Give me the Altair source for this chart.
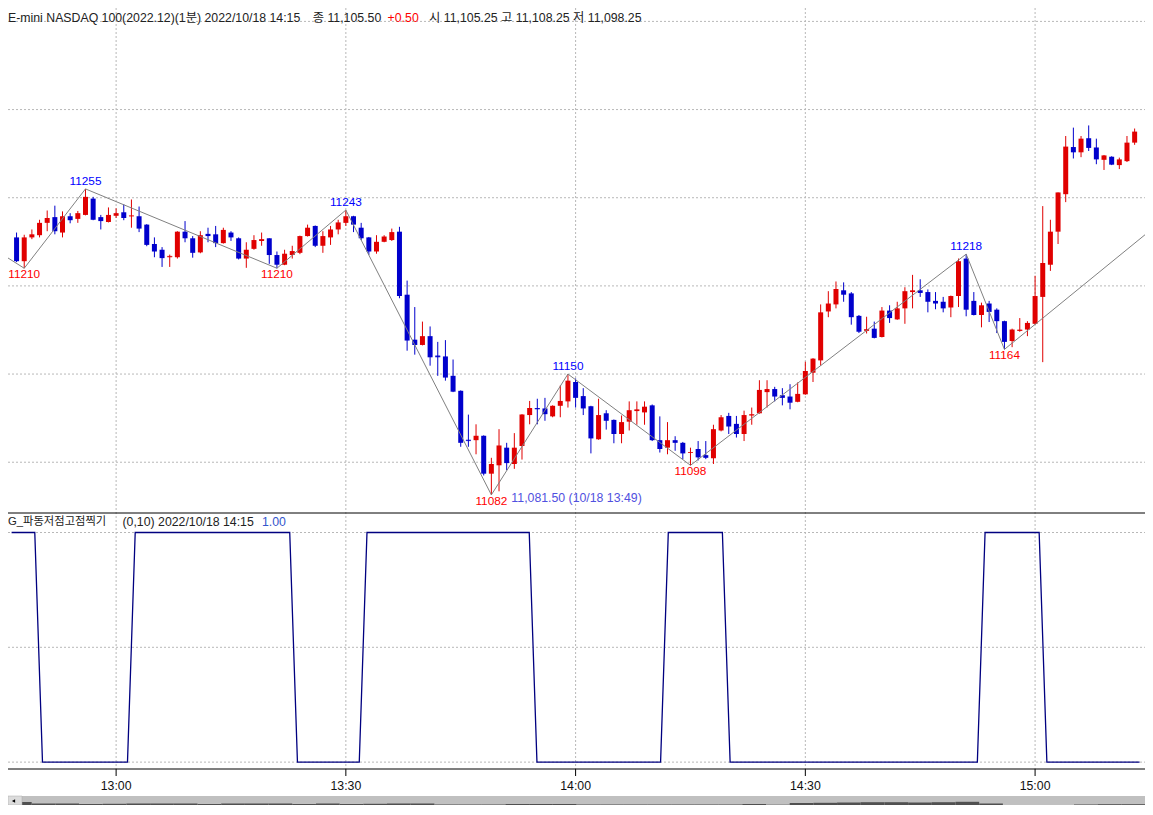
import altair as alt
import pandas as pd

# ---------------- values ----------------
FIRST_BAR = "12:47"  # consecutive 1-minute bars

opens = [
    11227.5, 11214.0, 11227.5, 11228.75, 11235.75, 11239.0, 11230.25, 11239.5, 11238.0, 11240.25,
    11249.5, 11239.0, 11236.25, 11239.75, 11241.75, 11239.5, 11239.5, 11234.75, 11223.75, 11220.5,
    11216.25, 11216.25, 11230.75, 11227.0, 11219.0, 11229.5, 11229.25, 11224.25, 11230.25, 11227.0,
    11215.5, 11221.0, 11225.5, 11227.0, 11217.5, 11212.0, 11217.5, 11218.75, 11228.25, 11234.0,
    11222.75, 11227.5, 11232.0, 11235.75, 11239.5, 11233.0, 11227.5, 11219.5, 11225.0, 11226.0,
    11230.75, 11195.0, 11169.5, 11166.5, 11171.5, 11160.5, 11160.0, 11149.0, 11140.5, 11112.75,
    11112.5, 11115.0, 11093.5, 11098.25, 11108.25, 11099.0, 11109.25, 11126.75, 11130.75, 11130.5,
    11126.0, 11132.0, 11134.5, 11145.5, 11137.5, 11131.75, 11113.0, 11127.75, 11124.0, 11116.0,
    11123.0, 11129.0, 11128.25, 11132.25, 11112.5, 11108.25, 11112.5, 11111.0, 11105.25, 11107.5,
    11104.0, 11102.25, 11118.0, 11126.25, 11121.75, 11116.0, 11126.5, 11127.75, 11139.75, 11141.5,
    11138.0, 11137.25, 11134.25, 11138.5, 11150.75, 11157.75, 11185.5, 11189.5, 11197.5, 11195.75,
    11183.0, 11174.5, 11175.75, 11171.0, 11186.0, 11181.0, 11187.25, 11196.5, 11197.5, 11196.5,
    11191.5, 11191.0, 11187.75, 11194.25, 11215.5, 11191.5, 11183.5, 11190.0, 11186.5, 11180.0,
    11168.75, 11174.5, 11175.25, 11178.5, 11193.75, 11212.0, 11230.75, 11252.0, 11278.75, 11275.75,
    11283.75, 11278.5, 11271.5, 11273.25, 11268.5, 11270.75, 11281.25,
]
highs = [
    11230.25, 11229.0, 11232.0, 11237.5, 11242.75, 11245.5, 11242.25, 11241.25, 11242.5, 11255.0,
    11250.5, 11240.25, 11244.5, 11244.0, 11246.25, 11249.0, 11245.0, 11235.0, 11227.5, 11222.0,
    11217.75, 11231.0, 11236.75, 11228.25, 11231.0, 11233.0, 11234.0, 11233.0, 11231.0, 11227.5,
    11224.75, 11228.75, 11230.25, 11227.0, 11219.5, 11220.5, 11222.75, 11228.5, 11234.75, 11234.25,
    11231.0, 11234.0, 11237.5, 11243.0, 11239.75, 11235.75, 11227.75, 11228.75, 11228.75, 11232.5,
    11233.5, 11203.0, 11188.0, 11179.75, 11177.0, 11168.25, 11169.25, 11158.25, 11140.75, 11127.0,
    11121.5, 11115.25, 11102.5, 11118.75, 11111.0, 11116.5, 11127.25, 11134.75, 11136.0, 11136.5,
    11132.25, 11143.5, 11150.0, 11147.5, 11142.0, 11132.0, 11136.0, 11129.5, 11124.25, 11126.5,
    11134.5, 11134.5, 11134.5, 11132.75, 11126.0, 11122.75, 11114.75, 11111.5, 11108.25, 11112.0,
    11112.0, 11121.25, 11126.75, 11128.0, 11126.25, 11129.25, 11131.0, 11146.5, 11146.5, 11142.75,
    11142.0, 11144.25, 11145.25, 11157.0, 11159.0, 11189.5, 11197.0, 11202.5, 11202.0, 11196.5,
    11183.5, 11182.5, 11179.75, 11188.0, 11189.0, 11191.0, 11199.25, 11206.25, 11203.75, 11198.0,
    11196.5, 11193.75, 11194.5, 11215.5, 11218.0, 11196.5, 11190.5, 11191.5, 11187.25, 11180.25,
    11175.75, 11181.75, 11180.0, 11205.75, 11245.25, 11237.5, 11253.0, 11285.0, 11289.75, 11285.0,
    11291.0, 11283.5, 11274.25, 11273.5, 11272.75, 11285.0, 11289.25,
]
lows = [
    11213.5, 11210.0, 11226.5, 11227.5, 11231.0, 11229.25, 11227.5, 11235.5, 11235.75, 11240.0,
    11237.25, 11232.0, 11236.0, 11238.5, 11237.25, 11233.0, 11230.5, 11222.5, 11216.25, 11210.75,
    11210.75, 11215.5, 11224.75, 11216.0, 11218.5, 11224.75, 11222.0, 11224.0, 11225.5, 11215.0,
    11210.25, 11220.5, 11222.75, 11212.5, 11210.0, 11211.75, 11215.5, 11218.0, 11228.0, 11222.0,
    11218.75, 11223.25, 11229.25, 11234.0, 11230.5, 11226.0, 11217.5, 11218.25, 11224.75, 11225.5,
    11193.0, 11163.25, 11161.0, 11166.25, 11154.75, 11149.0, 11146.25, 11139.75, 11108.75, 11108.75,
    11104.5, 11092.5, 11081.5, 11083.5, 11095.5, 11096.25, 11101.5, 11121.5, 11121.5, 11123.5,
    11125.5, 11125.5, 11131.0, 11131.0, 11126.75, 11105.0, 11112.75, 11118.5, 11110.75, 11110.75,
    11118.0, 11121.25, 11121.25, 11112.0, 11105.5, 11104.5, 11106.5, 11101.75, 11098.25, 11101.0,
    11101.75, 11099.0, 11117.5, 11116.0, 11114.0, 11112.0, 11121.25, 11127.5, 11131.0, 11134.5,
    11132.25, 11130.0, 11134.0, 11138.25, 11145.5, 11154.75, 11182.25, 11187.25, 11191.0, 11178.0,
    11173.25, 11173.0, 11170.25, 11170.75, 11179.0, 11180.75, 11178.5, 11187.25, 11193.75, 11185.0,
    11186.75, 11185.0, 11182.25, 11188.0, 11182.75, 11183.25, 11176.5, 11179.5, 11173.25, 11164.0,
    11165.25, 11174.0, 11171.5, 11178.0, 11156.75, 11208.5, 11223.75, 11247.5, 11272.25, 11273.0,
    11276.5, 11269.0, 11265.75, 11268.5, 11266.25, 11270.25, 11280.0,
]
closes = [
    11214.0, 11227.5, 11229.25, 11235.75, 11238.5, 11231.0, 11239.5, 11237.25, 11241.25, 11250.5,
    11237.5, 11236.75, 11240.25, 11241.25, 11238.5, 11239.75, 11232.5, 11223.25, 11219.5, 11215.75,
    11216.75, 11230.75, 11227.0, 11218.75, 11228.75, 11228.25, 11224.25, 11231.75, 11227.5, 11215.5,
    11220.5, 11226.0, 11226.25, 11217.5, 11212.0, 11218.25, 11219.75, 11228.25, 11233.0, 11222.75,
    11228.25, 11232.0, 11236.0, 11239.5, 11234.75, 11227.0, 11219.5, 11225.0, 11228.0, 11230.5,
    11194.25, 11169.0, 11166.5, 11171.5, 11159.5, 11159.75, 11148.0, 11140.0, 11111.0, 11112.25,
    11115.0, 11093.5, 11099.0, 11109.5, 11099.5, 11108.25, 11127.0, 11130.75, 11130.25, 11127.25,
    11132.0, 11134.75, 11146.25, 11136.5, 11130.5, 11113.5, 11126.75, 11123.5, 11116.0, 11122.75,
    11129.5, 11129.75, 11131.5, 11112.5, 11107.5, 11112.5, 11111.0, 11105.0, 11105.5, 11102.75,
    11102.5, 11118.75, 11125.5, 11120.25, 11116.0, 11126.75, 11127.0, 11141.0, 11141.5, 11137.25,
    11136.5, 11133.75, 11138.75, 11151.75, 11158.75, 11185.0, 11190.0, 11198.25, 11195.0, 11182.25,
    11174.0, 11175.25, 11170.5, 11186.0, 11181.75, 11187.25, 11197.0, 11197.25, 11196.0, 11191.0,
    11190.0, 11187.25, 11194.25, 11214.0, 11186.5, 11183.5, 11189.0, 11185.25, 11180.0, 11168.25,
    11175.25, 11175.0, 11179.0, 11194.25, 11213.0, 11230.75, 11253.0, 11279.0, 11275.75, 11283.5,
    11278.25, 11271.75, 11274.0, 11268.75, 11271.75, 11281.25, 11287.5,
]
# wave high/low indicator (0 or 1), one value per bar
signal = [
    1, 1, 1, 1, 0, 0, 0, 0, 0, 0,
    0, 0, 0, 0, 0, 0, 1, 1, 1, 1,
    1, 1, 1, 1, 1, 1, 1, 1, 1, 1,
    1, 1, 1, 1, 1, 1, 1, 0, 0, 0,
    0, 0, 0, 0, 0, 0, 1, 1, 1, 1,
    1, 1, 1, 1, 1, 1, 1, 1, 1, 1,
    1, 1, 1, 1, 1, 1, 1, 1, 0, 0,
    0, 0, 0, 0, 0, 0, 0, 0, 0, 0,
    0, 0, 0, 0, 0, 1, 1, 1, 1, 1,
    1, 1, 1, 0, 0, 0, 0, 0, 0, 0,
    0, 0, 0, 0, 0, 0, 0, 0, 0, 0,
    0, 0, 0, 0, 0, 0, 0, 0, 0, 0,
    0, 0, 0, 0, 0, 0, 1, 1, 1, 1,
    1, 1, 1, 1, 0, 0, 0, 0, 0, 0,
    0, 0, 0, 0, 0, 0, 0,
]

pivot_times = ["12:40", "12:48", "12:56", "13:21", "13:30", "13:49", "13:59", "14:15", "14:51", "14:56", "15:20"]
pivot_prices = [11232, 11210, 11255, 11210, 11243, 11081.5, 11150, 11098.25, 11218, 11164, 11249]
pivot_labels = ["", "11210", "11255", "11210", "11243", "11082", "11150", "11098", "11218", "11164", ""]
pivot_kinds = ["high", "low", "high", "low", "high", "low", "high", "low", "high", "low", "high"]

low_note_time = "13:49"
low_note_price = 11081.5
low_note_text = "11,081.50 (10/18 13:49)"

price_grid = [11100, 11150, 11200, 11250, 11300, 11350]
signal_grid = [0, 0.5, 1]
time_ticks = ["13:00", "13:30", "14:00", "14:30", "15:00"]
nav_levels = [3.0, 1.5, 1.5, 1.0, 1.2, 1.5, 1.5, 1.5, 1.0, 1.5,
              1.5, 1.5, 1.0, 1.5, 1.0, 1.2, 1.5, 1.5, 0.5, 0.5,
              0.5, 1.0, 1.0, 1.0, 0.5, 0.5, 0.5, 0.5, 0.5, 0.5,
              0.5, 1.0, 0.3, 2.0, 2.2, 2.5, 2.8, 2.8, 2.5, 2.8,
              3.2, 1.5, 0.0, 0.0, 0.0, 0.5, 0.8, 0.8]

head_1 = "E-mini NASDAQ 100(2022.12)(1분) 2022/10/18 14:15"
head_2 = "종 11,105.50"
head_3 = "+0.50"
head_4 = "시 11,105.25 고 11,108.25 저 11,098.25"
sub_1 = "G_파동저점고점찍기"
sub_2 = "(0,10) 2022/10/18 14:15"
sub_3 = "1.00"

# ---------------- layout / style ----------------
W, H = 1137, 797
SEP_Y = 505        # border between the two panes
AXIS_Y = 761       # time axis line
NAV_Y = 788        # scroll/navigator band top
X_DOM = [766.535, 913.70]
P_DOM = [10905.6, 11357.6]
S_DOM = [-0.1868, 3.2844]
RED, BLUE = "#e00000", "#0000cc"
GRID = "#b8b8b8"
TEXT_FONT = "'Liberation Sans', 'Noto Sans CJK KR', sans-serif"
LABEL_FONT = "'Liberation Sans', sans-serif"
FS = 12.3
LFS = 11.8


def minutes(s):
    h, m = s.split(":")
    return int(h) * 60 + int(m)


t0 = minutes(FIRST_BAR)
bars = pd.DataFrame({
    "t": [t0 + i for i in range(len(opens))],
    "open": opens, "high": highs, "low": lows, "close": closes, "sig": signal,
})
bars["dir"] = ["up" if c >= o else "down" for o, c in zip(opens, closes)]
bars["flat"] = [abs(c - o) < 1.0 for o, c in zip(opens, closes)]

piv = pd.DataFrame({"t": [minutes(s) for s in pivot_times], "price": pivot_prices,
                    "label": pivot_labels, "kind": pivot_kinds})
note = pd.DataFrame({"t": [minutes(low_note_time)], "price": [low_note_price], "label": [low_note_text]})
pgrid = pd.DataFrame({"p": price_grid})
sgrid = pd.DataFrame({"v": signal_grid})
ticks = pd.DataFrame({"t": [minutes(s) for s in time_ticks], "lab": time_ticks})
nav = pd.DataFrame({"k": list(range(len(nav_levels))), "k2": [k + 1 for k in range(len(nav_levels))],
                    "h": nav_levels})
one = pd.DataFrame({"a": [0]})

xs = alt.Scale(domain=X_DOM, nice=False, zero=False)
ps = alt.Scale(domain=P_DOM, nice=False, zero=False)
ss = alt.Scale(domain=S_DOM, nice=False, zero=False)
X = alt.X("t:Q", scale=xs, axis=None)
col = alt.Color("dir:N", scale=alt.Scale(domain=["up", "down"], range=[RED, BLUE]), legend=None)

vgrid = alt.Chart(ticks).mark_rule(color=GRID, strokeDash=[2, 2], strokeWidth=1).encode(
    x=X, y=alt.value(0), y2=alt.value(AXIS_Y))
hgrid = alt.Chart(pgrid).mark_rule(color=GRID, strokeDash=[2, 2], strokeWidth=1).encode(
    y=alt.Y("p:Q", scale=ps, axis=None), x=alt.value(0), x2=alt.value(W))
wicks = alt.Chart(bars).mark_rule(strokeWidth=1).encode(
    x=X, y=alt.Y("low:Q", scale=ps, axis=None), y2="high:Q", color=col)
bodies = alt.Chart(bars).mark_bar(size=5).encode(
    x=X, y=alt.Y("open:Q", scale=ps, axis=None), y2="close:Q", color=col)
flats = alt.Chart(bars).transform_filter("datum.flat").mark_tick(
    thickness=1, size=5, orient="horizontal").encode(
    x=X, y=alt.Y("close:Q", scale=ps, axis=None), color=col)
zig = alt.Chart(piv).mark_line(color="#808080", strokeWidth=1, clip=True).encode(
    x=X, y=alt.Y("price:Q", scale=ps, axis=None), order="t:Q")
hi_lab = alt.Chart(piv).transform_filter("datum.kind == 'high' && datum.label != ''").mark_text(
    font=LABEL_FONT, fontSize=LFS, color="#0000ff", baseline="alphabetic", dy=-4, clip=True).encode(
    x=X, y=alt.Y("price:Q", scale=ps, axis=None), text="label:N")
lo_lab = alt.Chart(piv).transform_filter("datum.kind == 'low' && datum.label != ''").mark_text(
    font=LABEL_FONT, fontSize=LFS, color="#ff0000", baseline="alphabetic", dy=10, clip=True).encode(
    x=X, y=alt.Y("price:Q", scale=ps, axis=None), text="label:N")
note_lab = alt.Chart(note).mark_text(
    font=TEXT_FONT, fontSize=FS, color="#5050e0", align="left", baseline="middle", dx=20, dy=3).encode(
    x=X, y=alt.Y("price:Q", scale=ps, axis=None), text="label:N")

sep = alt.Chart(one).mark_rule(color="black", strokeWidth=1).encode(
    x=alt.value(0), x2=alt.value(W), y=alt.value(SEP_Y))
axis_line = alt.Chart(one).mark_rule(color="black", strokeWidth=1).encode(
    x=alt.value(0), x2=alt.value(W), y=alt.value(AXIS_Y))
tick_marks = alt.Chart(ticks).mark_rule(color="black", strokeWidth=1).encode(
    x=X, y=alt.value(AXIS_Y), y2=alt.value(AXIS_Y + 7))
tick_labs = alt.Chart(ticks).mark_text(font=TEXT_FONT, fontSize=FS, color="#111111",
                                       baseline="middle").encode(
    x=X, y=alt.value(777.5), text="lab:N")


def label(txt, x, y, color="#222222", size=FS):
    return alt.Chart(one).mark_text(text=txt, font=TEXT_FONT, fontSize=size, color=color,
                                    align="left", baseline="middle", clip=True).encode(
        x=alt.value(x), y=alt.value(y))


heads = [label(head_1, 0, 10), label(head_2, 304.7, 10), label(head_3, 379.6, 10, "#ff0000"),
         label(head_4, 421.1, 10),
         label(sub_1, 0, 514, size=11.3), label(sub_2, 114.5, 514), label(sub_3, 254, 514, "#3355cc")]

price_layer = alt.layer(vgrid, hgrid, wicks, bodies, flats, zig, hi_lab, lo_lab, note_lab,
                        sep, axis_line, tick_marks, tick_labs, *heads)

sig_rules = alt.Chart(sgrid).mark_rule(color=GRID, strokeDash=[2, 2], strokeWidth=1).encode(
    y=alt.Y("v:Q", scale=ss, axis=None), x=alt.value(0), x2=alt.value(W))
sig_line = alt.Chart(bars).mark_line(color="#000080", strokeWidth=1.3, clip=True).encode(
    x=X, y=alt.Y("sig:Q", scale=ss, axis=None))
sig_layer = alt.layer(sig_rules, sig_line)

nav_bg = alt.Chart(one).mark_rect(color="#c0c0c0").encode(
    x=alt.value(0), x2=alt.value(W), y=alt.value(NAV_Y), y2=alt.value(H))
nav_bars = alt.Chart(nav).mark_bar(color="#505050").encode(
    x=alt.X("k:Q", scale=alt.Scale(domain=[0, len(nav_levels)], nice=False, zero=False), axis=None),
    x2="k2:Q",
    y=alt.Y("h:Q", scale=alt.Scale(domain=[0, H], nice=False), axis=None),
    y2=alt.value(H))
nav_btn = alt.Chart(one).mark_rect(color="#dcdcdc", stroke="#a8a8a8", strokeWidth=0.5).encode(
    x=alt.value(0), x2=alt.value(14), y=alt.value(NAV_Y), y2=alt.value(H))
nav_arrow = alt.Chart(one).mark_point(shape="triangle-left", filled=True, size=14, color="black",
                                      opacity=1).encode(x=alt.value(5.5), y=alt.value(793))
nav_layer = alt.layer(nav_bg, nav_bars, nav_btn, nav_arrow)

chart = alt.layer(price_layer, sig_layer, nav_layer).resolve_scale(
    x="independent", y="independent"
).properties(
    width=W, height=H, padding=0, autosize=alt.AutoSizeParams(type="none"),
    background="white"
).configure_view(stroke=None)

chart.save("out.html", embed_options={"renderer": "svg", "actions": False})
